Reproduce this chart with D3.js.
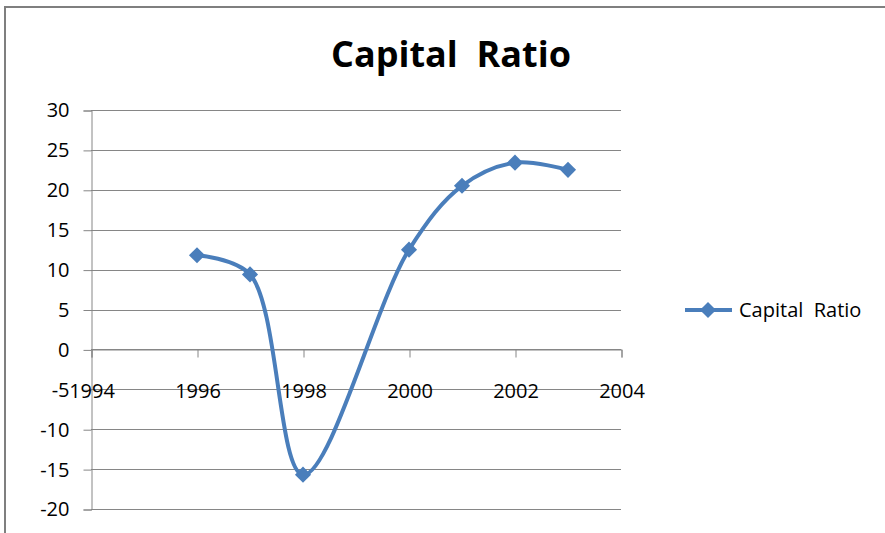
<!DOCTYPE html>
<html>
<head>
<meta charset="utf-8">
<script src="https://cdn.jsdelivr.net/npm/d3@7"></script>
<style>
  html, body { margin: 0; padding: 0; background: #fff; }
  svg { display: block; }
  text { font-family: "Open Sans", sans-serif; fill: #000; }
</style>
</head>
<body>
<svg id="chart" width="885" height="533"></svg>
<script>
// Capital ratio by year
const years = [1996, 1997, 1998, 2000, 2001, 2002, 2003];
const capitalRatio = [11.8, 9.4, -15.7, 12.5, 20.5, 23.4, 22.5];
const seriesName = "Capital  Ratio";
const chartTitle = "Capital  Ratio";
const xTicks = [1994, 1996, 1998, 2000, 2002, 2004];
const yTicks = [30, 25, 20, 15, 10, 5, 0, -5, -10, -15, -20];

const svg = d3.select("#chart");
const W = 885, H = 533;

// chart frame
svg.append("line").attr("x1", 5).attr("x2", W).attr("y1", 7).attr("y2", 7)
  .attr("stroke", "#7f7f7f").attr("stroke-width", 2);
svg.append("line").attr("x1", 5).attr("x2", 5).attr("y1", 6).attr("y2", H)
  .attr("stroke", "#7f7f7f").attr("stroke-width", 2);

const x = d3.scaleLinear().domain([1994, 2004]).range([91, 621]);
const y = d3.scaleLinear().domain([-20, 30]).range([509, 110]);

const gridColor = "#868686";
const plain = d => String(d);

// horizontal gridlines
svg.append("g").selectAll("line").data(yTicks).join("line")
  .attr("x1", x(1994)).attr("x2", x(2004))
  .attr("y1", d => Math.round(y(d)) + 0.5).attr("y2", d => Math.round(y(d)) + 0.5)
  .attr("stroke", gridColor).attr("stroke-width", 1);

// y axis
const yAxis = d3.axisLeft(y).tickValues(yTicks).tickSize(8).tickPadding(14).tickFormat(plain);
const gy = svg.append("g").attr("transform", `translate(${x(1994) + 0.5},0.5)`).call(yAxis);
gy.select(".domain").attr("stroke", gridColor);
gy.selectAll(".tick line").attr("stroke", gridColor);
gy.selectAll(".tick text").style("font-size", "20px").style("font-family", "'Open Sans', sans-serif")
  .attr("fill", "#000");

// x axis crossing at zero, labels placed below
const xAxis = d3.axisBottom(x).tickValues(xTicks).tickSize(8).tickPadding(26).tickFormat(plain);
const gx = svg.append("g").attr("transform", `translate(0.5,${Math.round(y(0)) + 0.5})`).call(xAxis);
gx.select(".domain").attr("stroke", gridColor);
gx.selectAll(".tick line").attr("stroke", gridColor);
gx.selectAll(".tick text").style("font-size", "20px").style("font-family", "'Open Sans', sans-serif")
  .attr("fill", "#000");

// smoothed series line
const blue = "#4a7ebb";
const pts = years.map((yr, i) => [x(yr), y(capitalRatio[i])]);
const line = d3.line().curve(d3.curveCatmullRom.alpha(0.5));
svg.append("path").attr("d", line(pts))
  .attr("fill", "none").attr("stroke", blue).attr("stroke-width", 4)
  .attr("stroke-linejoin", "round").attr("stroke-linecap", "round");

// diamond markers
const diamond = d3.symbol().type(d3.symbolSquare).size(130);
svg.append("g").selectAll("path").data(pts).join("path")
  .attr("d", diamond)
  .attr("transform", d => `translate(${d[0]},${d[1]}) rotate(45)`)
  .attr("fill", blue);

// title
svg.append("text").attr("x", 451).attr("y", 67).attr("text-anchor", "middle")
  .style("font-size", "36px").style("font-weight", "700")
  .style("white-space", "pre").text(chartTitle);

// legend
const lg = svg.append("g");
lg.append("line").attr("x1", 685).attr("x2", 732).attr("y1", 310).attr("y2", 310)
  .attr("stroke", blue).attr("stroke-width", 4);
lg.append("path").attr("d", diamond).attr("transform", "translate(708,310) rotate(45)")
  .attr("fill", blue);
lg.append("text").attr("x", 739).attr("y", 316.5)
  .style("font-size", "20px").style("white-space", "pre").text(seriesName);
</script>
</body>
</html>
